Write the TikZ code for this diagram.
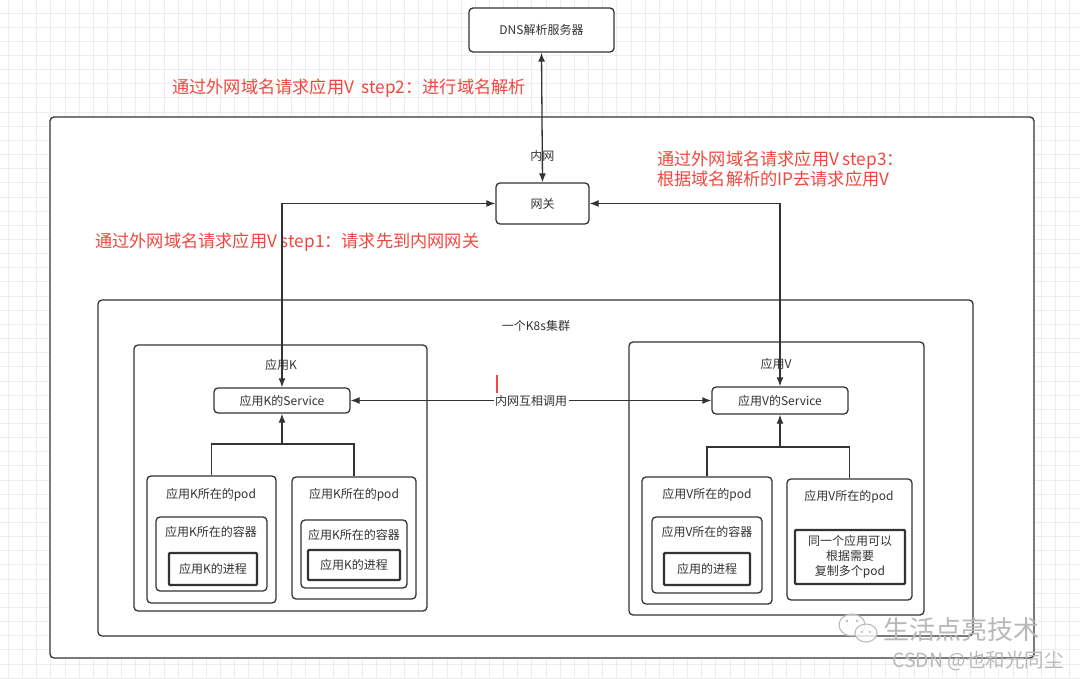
\documentclass[tikz,border=0pt]{standalone}
\usepackage{fontspec}
\setmainfont{Noto Sans CJK SC}
\usetikzlibrary{arrows.meta}
\definecolor{ln}{HTML}{333333}
\definecolor{rd}{HTML}{F0483E}
\definecolor{gridc}{HTML}{EDEDED}
\definecolor{wm}{HTML}{B8B8B8}
\tikzset{
  box/.style={draw=ln, line width=1.3pt, rounded corners=4pt, fill=white, inner sep=0pt, text=ln, font=\fontsize{12}{14}\selectfont},
  pbox/.style={draw=ln, line width=2.3pt, rounded corners=1pt, fill=white, inner sep=0pt, text=ln, font=\fontsize{12}{14}\selectfont, align=center},
  lbl/.style={text=ln, font=\fontsize{12}{14}\selectfont, inner sep=1pt},
  red/.style={text=rd, font=\fontsize{17.2}{20}\selectfont, inner sep=0pt, align=left},
  conn/.style={draw=ln, line width=1.3pt},
  arr/.style={conn, -{Latex[length=9pt,width=7pt]}},
  darr/.style={conn, {Latex[length=9pt,width=7pt]}-{Latex[length=9pt,width=7pt]}},
}
\begin{document}
\begin{tikzpicture}[x=1pt,y=-1pt]
\useasboundingbox (0,0) rectangle (1080,679);
\fill[white] (0,0) rectangle (1080,679);
% grid
\foreach \i in {0,...,76} \draw[gridc, line width=0.8pt] ({8.3+\i*14.15},0) -- ++(0,679);
\foreach \j in {0,...,47} \draw[gridc, line width=0.8pt] (0,{13+\j*14.15}) -- ++(1080,0);

% containers
\node[box, minimum width=984pt, minimum height=541pt] (outer) at (542,387.5) {};
\node[box, minimum width=875pt, minimum height=336pt] (cluster) at (535.5,468) {};
\node[lbl] (clusterlbl) at (536,326) {一个K8s集群};
\node[box, minimum width=293pt, minimum height=266pt] (appk) at (280.5,478) {};
\node[lbl] (appklbl) at (281,365) {应用K};
\node[box, minimum width=295pt, minimum height=273pt] (appv) at (776.5,478.5) {};
\node[lbl] (appvlbl) at (776,364) {应用V};

% top nodes
\node[box, minimum width=145pt, minimum height=44pt] (dns) at (541.5,30) {DNS解析服务器};
\node[box, minimum width=93pt, minimum height=41pt] (gw) at (542.5,203.5) {网关};

% services
\node[box, minimum width=136pt, minimum height=25pt] (ksvc) at (282,400.5) {应用K的Service};
\node[box, minimum width=136pt, minimum height=27pt] (vsvc) at (780,400.5) {应用V的Service};

% K pods
\node[box, minimum width=129pt, minimum height=127pt] (kp1) at (211.5,539.5) {};
\node[lbl] (kp1l) at (211,495) {应用K所在的pod};
\node[box, minimum width=111pt, minimum height=74pt] (kc1) at (211.5,554) {};
\node[lbl] (kc1l) at (211,532) {应用K所在的容器};
\node[pbox, minimum width=88pt, minimum height=32pt] (kr1) at (213,569) {应用K的进程};

\node[box, minimum width=124pt, minimum height=122pt] (kp2) at (354,538) {};
\node[lbl] (kp2l) at (354,495) {应用K所在的pod};
\node[box, minimum width=106pt, minimum height=68pt] (kc2) at (354,554) {};
\node[lbl] (kc2l) at (354,535) {应用K所在的容器};
\node[pbox, minimum width=92pt, minimum height=30pt] (kr2) at (354,565) {应用K的进程};

% V pods
\node[box, minimum width=130pt, minimum height=127pt] (vp1) at (707,540.5) {};
\node[lbl] (vp1l) at (707,495) {应用V所在的pod};
\node[box, minimum width=110pt, minimum height=76pt] (vc1) at (707,555) {};
\node[lbl] (vc1l) at (707,532) {应用V所在的容器};
\node[pbox, minimum width=86pt, minimum height=32pt] (vr1) at (707,569) {应用的进程};

\node[box, minimum width=125pt, minimum height=121pt] (vp2) at (849.5,539.5) {};
\node[lbl] (vp2l) at (849,497) {应用V所在的pod};
\node[pbox, minimum width=110pt, minimum height=54pt, font=\fontsize{12}{15}\selectfont] (vr2) at (850,557) {同一个应用可以\\根据需要\\复制多个pod};

% red annotations
\node[red, anchor=west] (s2) at (172,88) {通过外网域名请求应用V\ \ step2：进行域名解析};
\node[red, anchor=north west] (s3) at (657,151) {通过外网域名请求应用V step3：\\根据域名解析的IP去请求应用V};
\node[red, anchor=west] (s1) at (95,242) {通过外网域名请求应用V step1：请求先到内网网关};

% connectors
\draw[darr] (dns.south) -- (gw.north) node[pos=0.8, lbl] {内网};
\draw[darr] (gw.west) -| (ksvc.north);
\draw[darr] (gw.east) -| (vsvc.north);
\draw[darr] (ksvc.east) -- (vsvc.west) node[midway, lbl, fill=white, inner sep=1.5pt] (mid) {内网互相调用};

\coordinate (kj) at (282,444);
\draw[conn] (kp1.north) |- (kj);
\draw[conn] (kp2.north) |- (kj);
\draw[arr] (kj) -- (ksvc.south);
\coordinate (vj) at (780,447);
\draw[conn] (vp1.north) |- (vj);
\draw[conn] (vp2.north) |- (vj);
\draw[arr] (vj) -- (vsvc.south);

% red tick
\draw[rd, line width=2.5pt] (497,375) -- (497,393);

% watermark
\begin{scope}[wm, line width=1pt]
  \draw[fill=white, fill opacity=0.6] (852,625) ellipse (13pt and 11pt);
  \draw[fill=white, fill opacity=0.8] (866,633) ellipse (11pt and 9pt);
  \fill (847,621) circle (1.3pt); \fill (857,621) circle (1.3pt);
  \fill (862,632) circle (1.1pt); \fill (870,632) circle (1.1pt);
\end{scope}
\node[text=wm, font=\fontsize{26}{28}\selectfont, inner sep=0pt, anchor=west] (wm1) at (883,630) {生活点亮技术};
\node[text=wm, font=\fontsize{19.5}{22}\selectfont, inner sep=0pt, anchor=west] (wm2) at (892,661) {CSDN @也和光同尘};
\end{tikzpicture}
\end{document}
